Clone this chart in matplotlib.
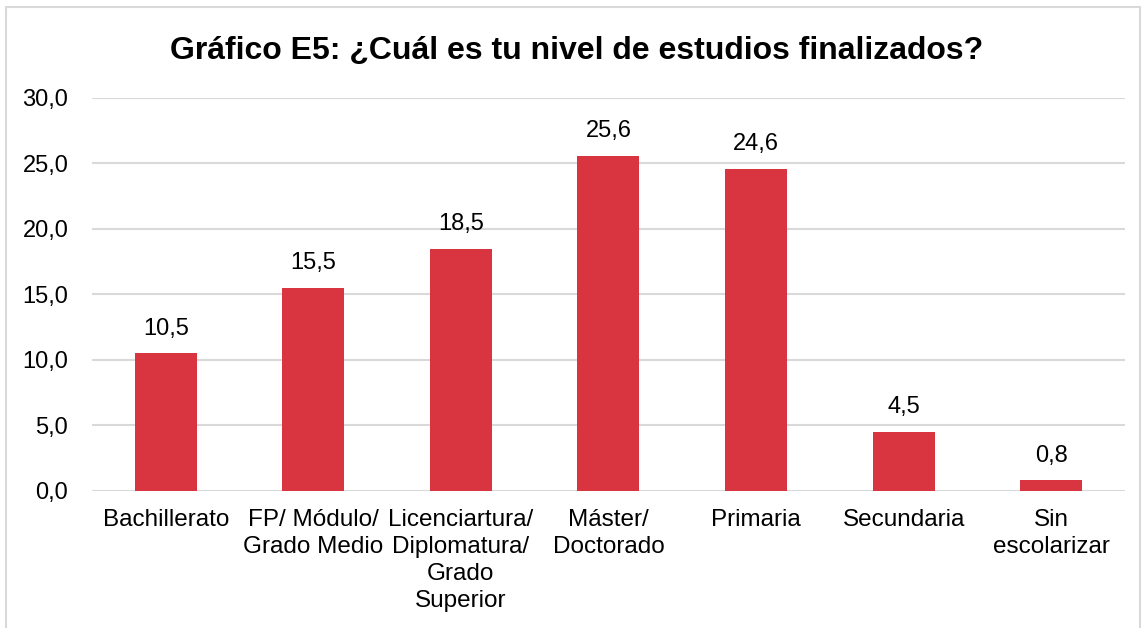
import matplotlib.pyplot as plt
from matplotlib.patches import Rectangle

plt.rcParams['font.family'] = ['Liberation Sans', 'DejaVu Sans']

# Niveles de estudios y porcentajes
categorias = ["Bachillerato", "FP/ Módulo/\nGrado Medio", "Licenciartura/\nDiplomatura/\nGrado\nSuperior",
              "Máster/\nDoctorado", "Primaria", "Secundaria", "Sin\nescolarizar"]
valores = [10.5, 15.5, 18.5, 25.6, 24.6, 4.5, 0.8]
ticks_y = [0, 5, 10, 15, 20, 25, 30]

fig = plt.figure(figsize=(11.45, 6.28), dpi=100)
ax = fig.add_axes([0.0803, 0.2182, 0.9022, 0.6258])

x = range(len(categorias))
ax.bar(x, valores, width=0.42, color="#D83541", zorder=3)

for xi, v in zip(x, valores):
    ax.annotate(f"{v:.1f}".replace(".", ","), (xi, v), xytext=(0, 10),
                textcoords="offset points", ha="center", va="bottom", fontsize=17)

ax.set_xlim(-0.5, len(categorias) - 0.5)
ax.set_ylim(0, 30)
ax.set_yticks(ticks_y)
ax.set_yticklabels([f"{t:.1f}".replace(".", ",") for t in ticks_y], fontsize=17)
ax.set_xticks(list(x))
ax.set_xticklabels(categorias, fontsize=17.5, linespacing=1.3, va="top")
ax.tick_params(axis="both", length=0)
ax.tick_params(axis="x", pad=13)
ax.tick_params(axis="y", pad=17)
ax.grid(axis="y", color="#D9D9D9", linewidth=1.5, zorder=0)
for s in ax.spines.values():
    s.set_visible(False)

fig.suptitle("Gráfico E5: ¿Cuál es tu nivel de estudios finalizados?",
             fontsize=23, fontweight="bold", x=0.504, y=0.943)

# marco del gráfico
fig.patches.append(Rectangle((6 / 1145, -0.1), 1134 / 1145, 1.1 - 7 / 628,
                             transform=fig.transFigure, fill=False,
                             edgecolor="#D9D9D9", linewidth=1.5))

fig.savefig("out.png", dpi=100)
